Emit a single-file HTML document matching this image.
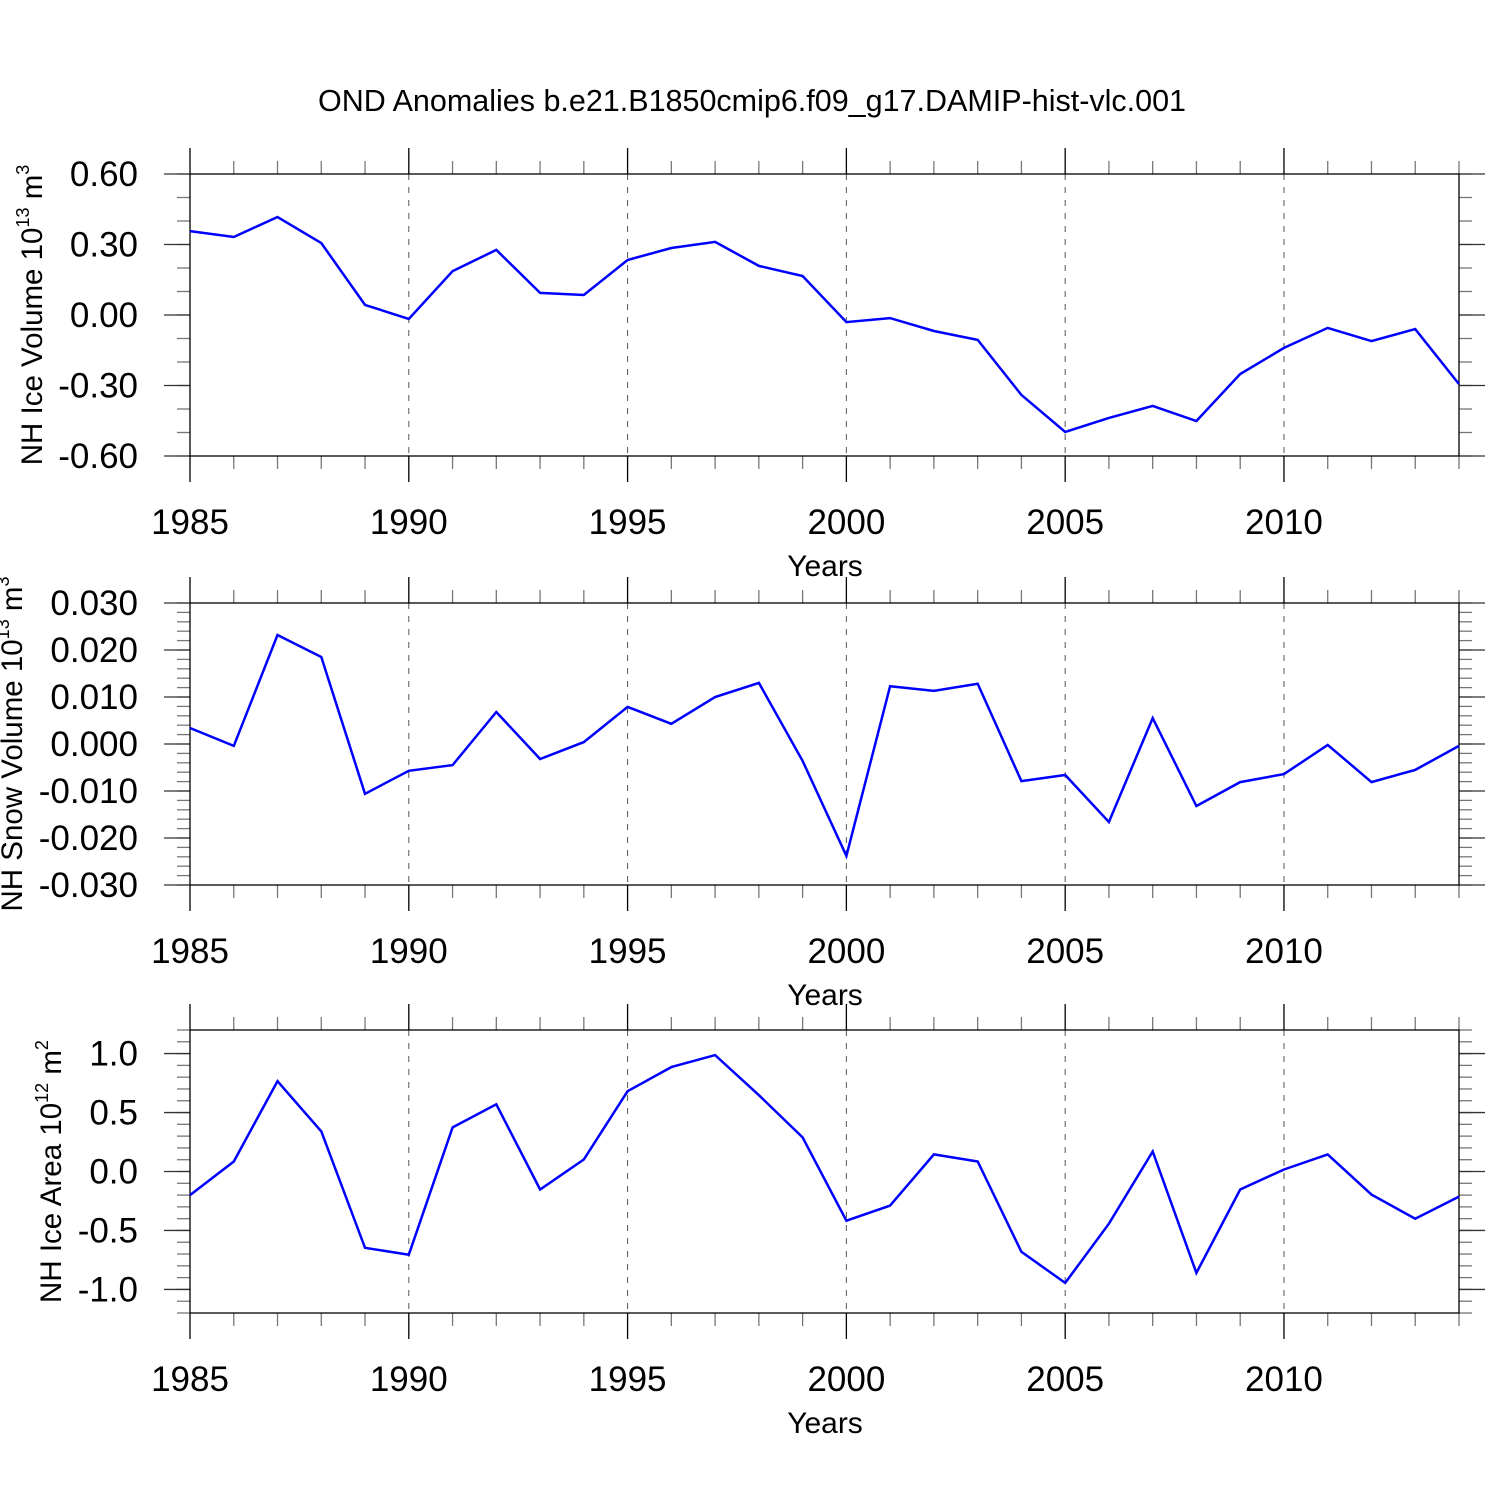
<!DOCTYPE html>
<html><head><meta charset="utf-8"><style>
html,body{margin:0;padding:0;background:#fff;}
svg{display:block;font-family:"Liberation Sans",sans-serif;}
</style></head><body>
<svg id="chart" width="1500" height="1500" viewBox="0 0 1500 1500">
<text x="752" y="111" font-size="30.5" text-anchor="middle">OND Anomalies b.e21.B1850cmip6.f09_g17.DAMIP-hist-vlc.001</text>
</svg>
<script>
const years = [1985,1986,1987,1988,1989,1990,1991,1992,1993,1994,1995,1996,1997,1998,1999,2000,2001,2002,2003,2004,2005,2006,2007,2008,2009,2010,2011,2012,2013,2014];
const iceVolume = [0.357,0.332,0.417,0.306,0.043,-0.017,0.187,0.277,0.094,0.085,0.234,0.285,0.311,0.209,0.166,-0.030,-0.013,-0.068,-0.106,-0.340,-0.498,-0.438,-0.387,-0.451,-0.251,-0.140,-0.055,-0.111,-0.060,-0.294];
const snowVolume = [0.0034,-0.0004,0.0232,0.0185,-0.0106,-0.0057,-0.0045,0.0068,-0.0032,0.0004,0.0079,0.0043,0.0100,0.0130,-0.0036,-0.0238,0.0123,0.0113,0.0128,-0.0079,-0.0066,-0.0166,0.0055,-0.0132,-0.0081,-0.0064,-0.0002,-0.0081,-0.0055,-0.0004];
const iceArea = [-0.20,0.085,0.766,0.34,-0.647,-0.706,0.374,0.570,-0.153,0.102,0.681,0.885,0.987,0.647,0.289,-0.417,-0.289,0.145,0.085,-0.681,-0.945,-0.443,0.170,-0.860,-0.153,0.017,0.145,-0.196,-0.400,-0.213];
const xTickLabels = [1985,1990,1995,2000,2005,2010];
const iceVolTicks = [-0.60,-0.30,0.00,0.30,0.60];
const snowTicks = [-0.030,-0.020,-0.010,0.000,0.010,0.020,0.030];
const areaTicks = [-1.0,-0.5,0.0,0.5,1.0];

const svg = document.getElementById('chart');
const NS = 'http://www.w3.org/2000/svg';
const X0 = 190, X1 = 1459, XMIN = 1985, XMAX = 2014;
function xs(v){ return X0 + (v - XMIN) / (XMAX - XMIN) * (X1 - X0); }
function mk(tag, attrs, parent){ const e = document.createElementNS(NS, tag); for (const k in attrs) e.setAttribute(k, attrs[k]); (parent||svg).appendChild(e); return e; }

function panel(cfg){
  const g = mk('g', {});
  
  
  const T = cfg.top, B = cfg.bottom;
  function ys(v){ return B - (v - cfg.ymin) / (cfg.ymax - cfg.ymin) * (B - T); }
  xTickLabels.forEach(y => {
    if (y === XMIN) return;
    const gl = mk('line', {x1: xs(y), x2: xs(y), y1: T, y2: B, stroke: '#555', 'stroke-width': 1, 'stroke-dasharray': '6,7'}, g);
    
    
  });
  for (let y = XMIN; y <= XMAX; y++) {
    const major = (y % 5 === 0);
    const L = major ? 26 : 13;
    mk('line', {x1: xs(y), x2: xs(y), y1: T - L, y2: T, stroke: major ? '#000' : '#777', 'stroke-width': 1.3}, g);
    mk('line', {x1: xs(y), x2: xs(y), y1: B, y2: B + L, stroke: major ? '#000' : '#777', 'stroke-width': 1.3}, g);
  }
  const nMinor = Math.round((cfg.ymax - cfg.ymin) / cfg.minor);
  for (let i = 0; i <= nMinor; i++) {
    const yy = ys(cfg.ymin + i * cfg.minor);
    mk('line', {x1: X0 - 13, x2: X0, y1: yy, y2: yy, stroke: '#777', 'stroke-width': 1.3}, g);
    mk('line', {x1: X1, x2: X1 + 13, y1: yy, y2: yy, stroke: '#777', 'stroke-width': 1.3}, g);
  }
  cfg.ticks.forEach(v => {
    const yy = ys(v);
    mk('line', {x1: X0 - 26, x2: X0, y1: yy, y2: yy, stroke: '#333', 'stroke-width': 1.3}, g);
    mk('line', {x1: X1, x2: X1 + 26, y1: yy, y2: yy, stroke: '#333', 'stroke-width': 1.3}, g);
    const t = mk('text', {x: 138, y: yy + 12, 'font-size': 35, 'text-anchor': 'end'}, g);
    t.textContent = v.toFixed(cfg.dec);
    
    
  });
  const fr = mk('rect', {x: X0, y: T, width: X1 - X0, height: B - T, fill: 'none', stroke: '#000', 'stroke-width': 1.3}, g);
  
  
  xTickLabels.forEach(y => {
    const t = mk('text', {x: xs(y), y: B + 78, 'font-size': 35, 'text-anchor': 'middle'}, g);
    t.textContent = y;
    
    
  });
  const xt = mk('text', {x: 825, y: B + 120, 'font-size': 30, 'text-anchor': 'middle'}, g);
  xt.textContent = 'Years';
  
  
  const yt = mk('text', {transform: 'translate(' + cfg.titleX + ',' + ((T + B) / 2) + ') rotate(-90)', 'font-size': 29.5, 'text-anchor': 'middle'}, g);
  
  
  yt.innerHTML = cfg.title + ' 10<tspan dy="-13" font-size="18">' + cfg.exp + '</tspan><tspan dy="13"> m</tspan><tspan dy="-13" font-size="18">' + cfg.unitExp + '</tspan>';
  const pts = years.map((y, i) => xs(y).toFixed(1) + ',' + ys(cfg.data[i]).toFixed(1)).join(' ');
  const pl = mk('polyline', {points: pts, fill: 'none', stroke: '#0000ff', 'stroke-width': 2.5, 'stroke-linejoin': 'miter'}, g);
  
  
}
panel({name: 'ice-volume-panel', top: 174, bottom: 456, ymin: -0.6, ymax: 0.6, minor: 0.1, ticks: iceVolTicks, dec: 2, data: iceVolume, title: 'NH Ice Volume', exp: '13', unitExp: '3', titleX: 42});
panel({name: 'snow-volume-panel', top: 603, bottom: 885, ymin: -0.03, ymax: 0.03, minor: 0.002, ticks: snowTicks, dec: 3, data: snowVolume, title: 'NH Snow Volume', exp: '13', unitExp: '3', titleX: 22});
panel({name: 'ice-area-panel', top: 1030, bottom: 1313, ymin: -1.2, ymax: 1.2, minor: 0.1, ticks: areaTicks, dec: 1, data: iceArea, title: 'NH Ice Area', exp: '12', unitExp: '2', titleX: 61});
</script>
</body></html>
